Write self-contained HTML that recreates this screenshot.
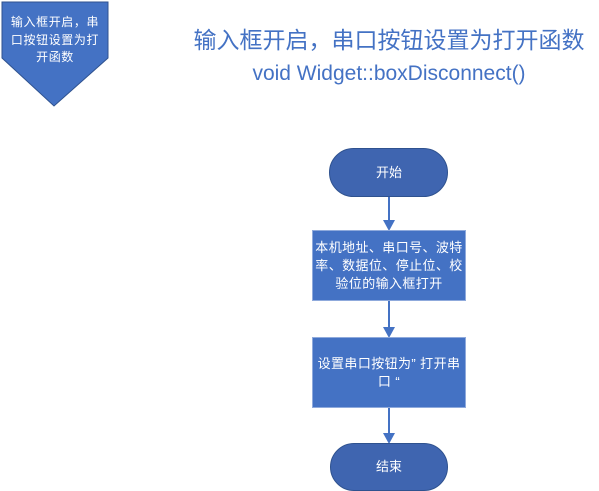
<!DOCTYPE html>
<html><head><meta charset="utf-8"><style>
html,body{margin:0;padding:0;background:#fff;width:599px;height:491px;overflow:hidden}
svg text{font-family:"Liberation Sans","Noto Sans CJK SC",sans-serif}
</style></head><body>
<svg width="599" height="491" viewBox="0 0 599 491" xmlns="http://www.w3.org/2000/svg">
<polygon points="2,2 108,2 108,58 54,106 2,58" fill="#4472c4" stroke="#2f528f" stroke-width="1"/>
<text fill="#fff" font-size="12" text-anchor="middle" letter-spacing="0.6"><tspan x="55" y="26">输入框开启，串</tspan><tspan x="55" y="44">口按钮设置为打</tspan><tspan x="55" y="61">开函数</tspan></text>
<text x="389" y="48" fill="#4472c4" font-size="23" text-anchor="middle">输入框开启，串口按钮设置为打开函数</text>
<text x="389" y="80" fill="#4472c4" font-size="21" text-anchor="middle">void Widget::boxDisconnect()</text>
<g stroke="#4472c4" stroke-width="2"><line x1="389" y1="196" x2="389" y2="222"/><line x1="389" y1="301" x2="389" y2="329"/><line x1="389" y1="407" x2="389" y2="435"/></g>
<g fill="#4472c4"><polygon points="383,220 395,220 389,231"/><polygon points="383,327 395,327 389,338"/><polygon points="383,433 395,433 389,444"/></g>
<rect x="329.5" y="148.5" width="118" height="48" rx="24" fill="#3f65b0" stroke="#2f528f"/>
<text x="389" y="177" fill="#fff" font-size="13" text-anchor="middle">开始</text>
<rect x="312.5" y="230.5" width="153" height="70" fill="#4472c4" stroke="#8faadc"/>
<text fill="#fff" font-size="13" text-anchor="middle" letter-spacing="0.4"><tspan x="389" y="252">本机地址、串口号、波特</tspan><tspan x="389" y="270">率、数据位、停止位、校</tspan><tspan x="389" y="288">验位的输入框打开</tspan></text>
<rect x="312.5" y="337.5" width="153" height="70" fill="#4472c4" stroke="#8faadc"/>
<text fill="#fff" font-size="13" text-anchor="middle" letter-spacing="0.4"><tspan x="389" y="368">设置串口按钮为” 打开串</tspan><tspan x="389" y="386">口 “</tspan></text>
<rect x="330.5" y="443.5" width="117" height="47" rx="23.5" fill="#3f65b0" stroke="#2f528f"/>
<text x="389" y="471" fill="#fff" font-size="13" text-anchor="middle">结束</text>
</svg>
</body></html>
